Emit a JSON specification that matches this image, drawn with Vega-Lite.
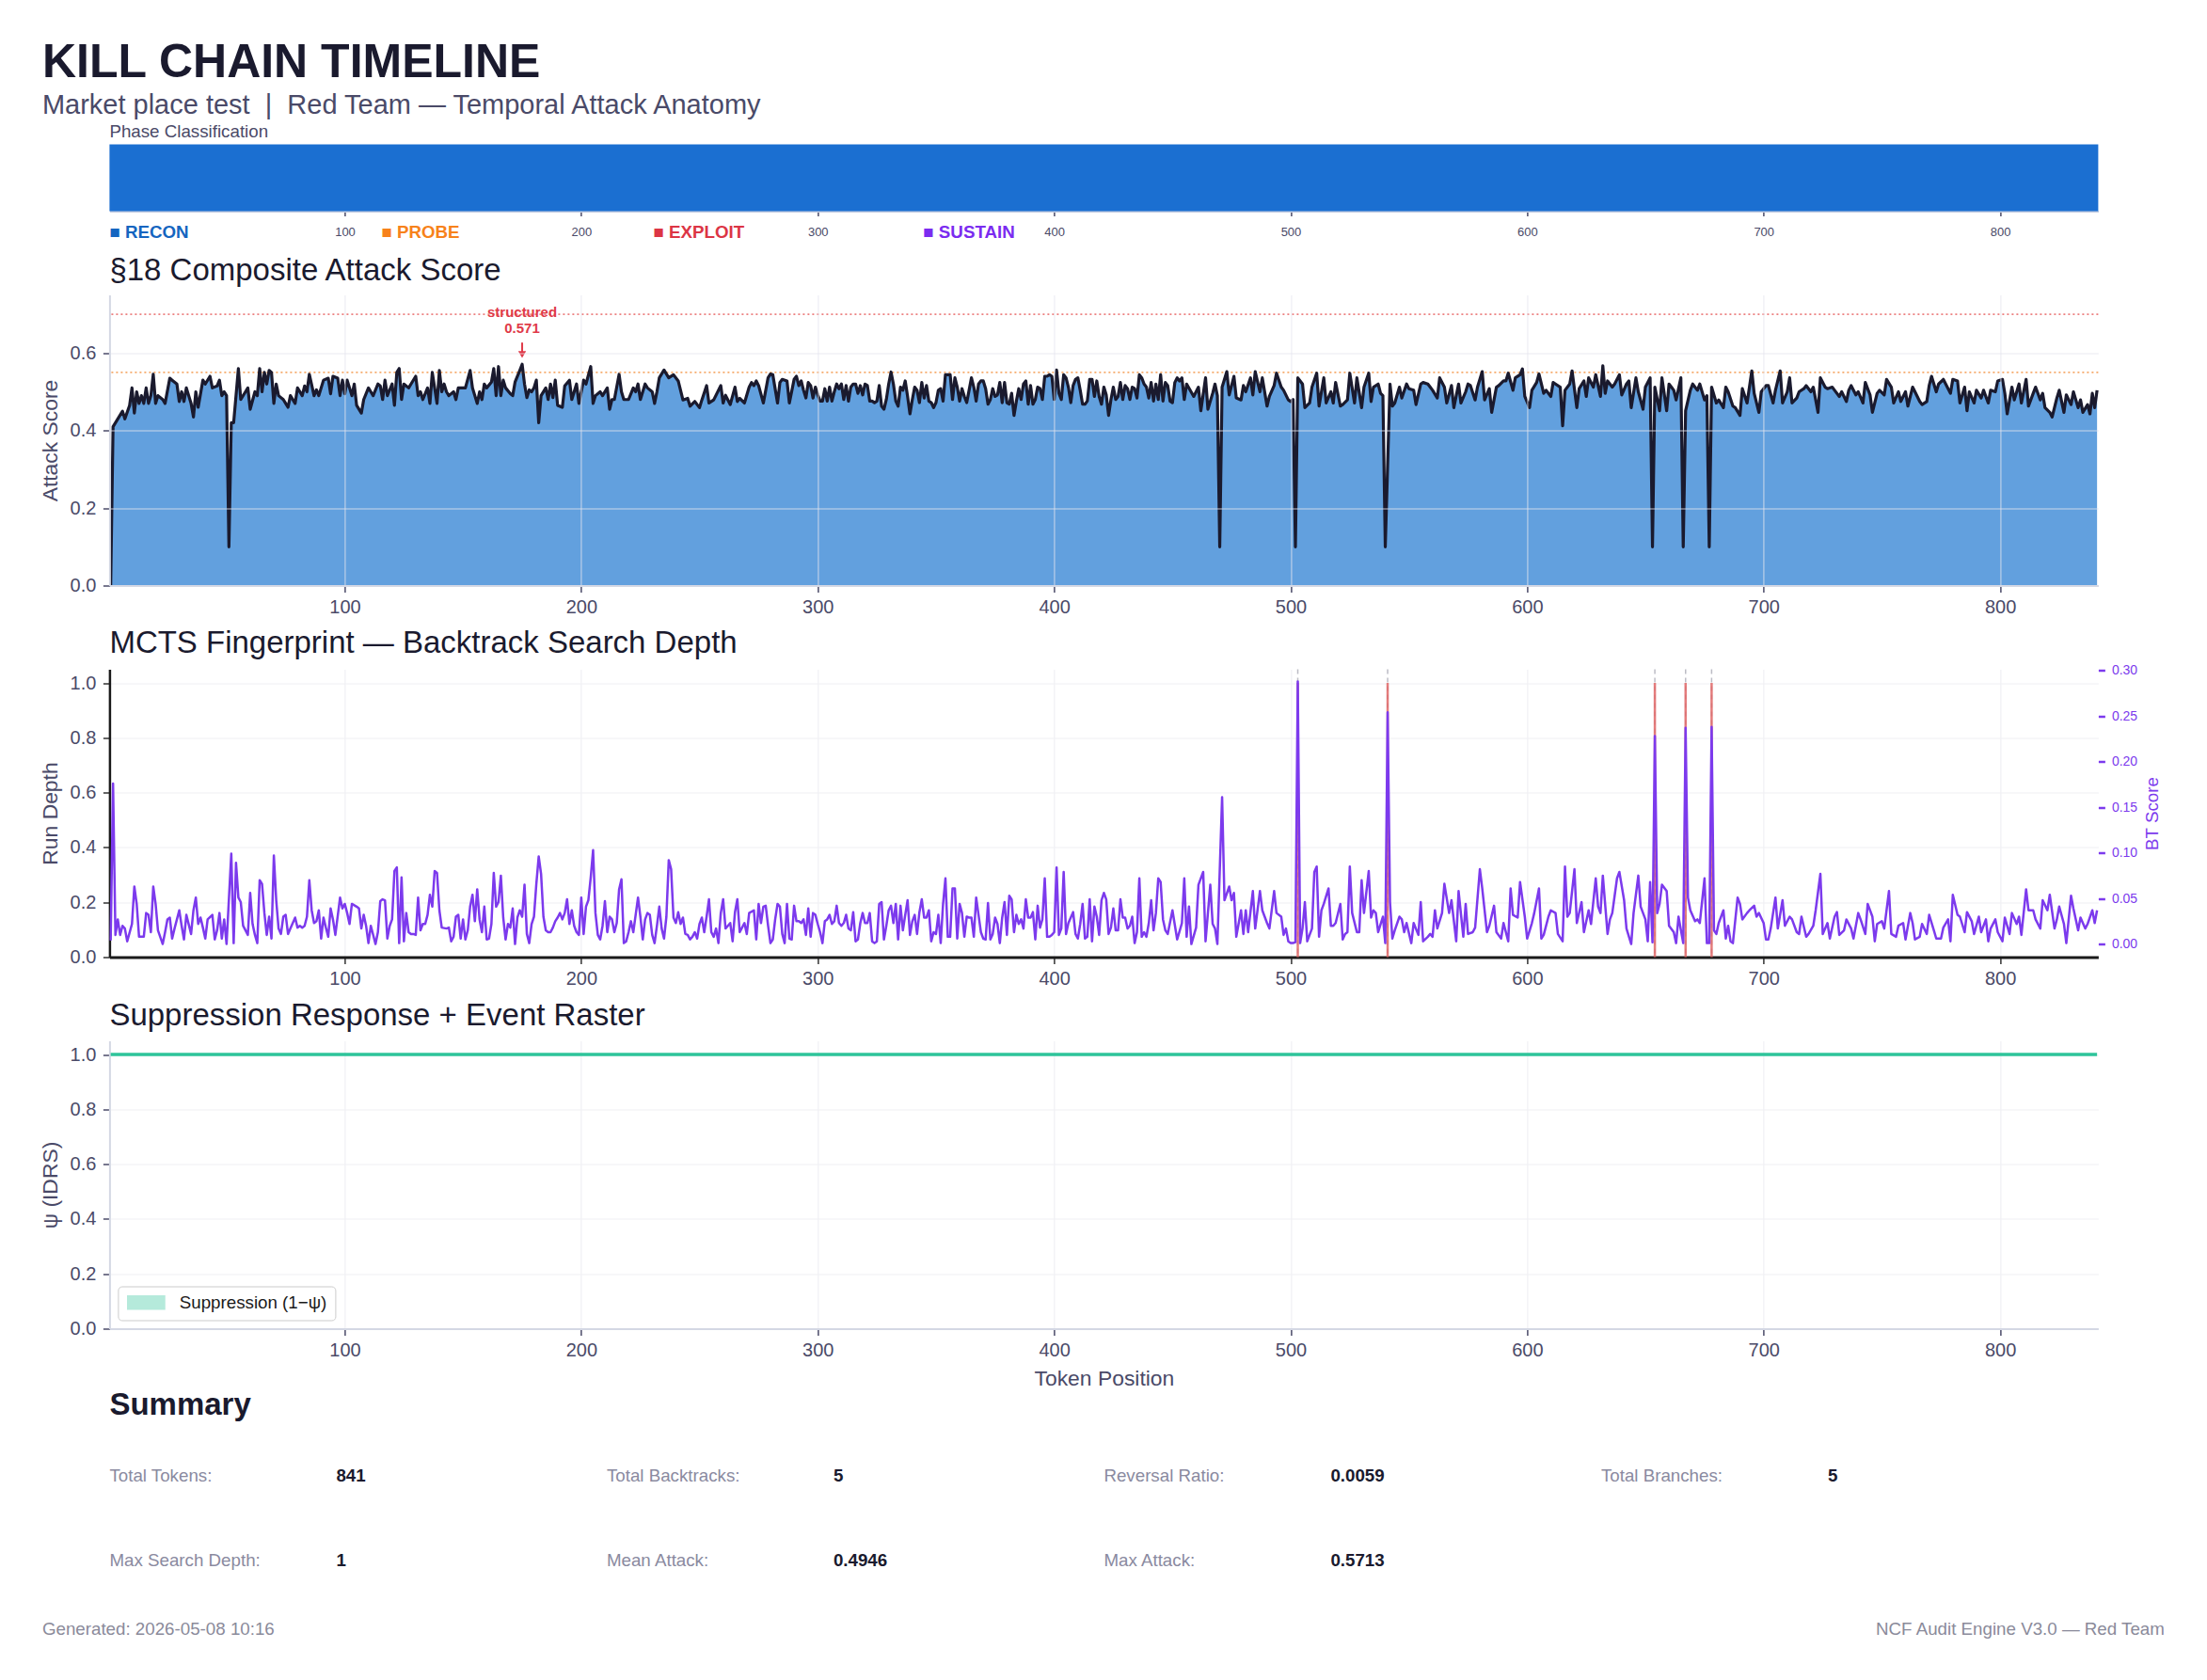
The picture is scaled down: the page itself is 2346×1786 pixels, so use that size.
{
"$schema": "https://vega.github.io/schema/vega-lite/v6.json",
"background": "white",
"padding": {"left": 42.4, "top": 41.5, "right": 10, "bottom": 10},
"autosize": {"type": "pad"},
"config": {
  "font": "Liberation Sans",
  "view": {"stroke": null},
  "axis": {"labelFont": "Liberation Sans", "titleFont": "Liberation Sans", "labelFontSize": 20, "labelColor": "#4a4a68", "titleFontSize": 22.9, "titleFontWeight": "normal", "titleColor": "#4a4a68", "tickColor": "#4a4a68", "tickWidth": 1.5, "tickSize": 7, "labelPadding": 6, "domainColor": "#d4d8e4", "domainWidth": 2, "gridColor": "#ececf2", "gridWidth": 1.2},
  "title": {"font": "Liberation Sans", "subtitleFont": "Liberation Sans"}
},
"title": {"text": "KILL CHAIN TIMELINE", "subtitle": "Market place test\u00a0\u00a0|\u00a0\u00a0Red Team — Temporal Attack Anatomy", "anchor": "start", "frame": "group", "dx": -71.5, "offset": 3.4, "fontSize": 50, "fontWeight": "bold", "color": "#1a1a2e", "subtitleFontSize": 29, "subtitleColor": "#4a4a68", "subtitlePadding": 6.3},
"spacing": 89,
"bounds": "flush",
"resolve": {"scale": {"color": "independent"}, "legend": {"color": "independent"}},
"datasets": {
"runs": [{"t":503,"d":1},{"t":541,"d":1},{"t":654,"d":1},{"t":667,"d":1},{"t":678,"d":1}],
"psi": [{"t":1,"psi":1,"s":0,"series":"Suppression (1−ψ)"},{"t":841,"psi":1,"s":0,"series":"Suppression (1−ψ)"}],
"atk": [
{"t":1,"v":0},{"t":2,"v":0.41},{"t":4,"v":0.43},{"t":6,"v":0.45},{"t":7,"v":0.43},{"t":9,"v":0.465},{"t":10,"v":0.51},{"t":11,"v":0.445},{"t":12,"v":0.5},{"t":13,"v":0.47},{"t":14,"v":0.49},{"t":15,"v":0.47},{"t":16,"v":0.51},{"t":17,"v":0.47},{"t":18,"v":0.49},{"t":19,"v":0.545},{"t":20,"v":0.47},{"t":21,"v":0.49},{"t":23,"v":0.48},{"t":24,"v":0.47},{"t":26,"v":0.535},{"t":27,"v":0.53},{"t":29,"v":0.52},{"t":30,"v":0.475},{"t":31,"v":0.5},{"t":32,"v":0.475},{"t":33,"v":0.51},{"t":35,"v":0.47},{"t":36,"v":0.435},{"t":37,"v":0.5},{"t":38,"v":0.46},{"t":40,"v":0.53},{"t":41,"v":0.52},{"t":43,"v":0.54},{"t":44,"v":0.51},{"t":46,"v":0.515},{"t":47,"v":0.53},{"t":48,"v":0.49},{"t":49,"v":0.5},{"t":50,"v":0.49},{"t":51,"v":0.1},{"t":52,"v":0.42},{"t":53,"v":0.42},{"t":55,"v":0.56},{"t":56,"v":0.48},{"t":58,"v":0.5},{"t":59,"v":0.51},{"t":60,"v":0.455},{"t":62,"v":0.5},{"t":63,"v":0.49},{"t":64,"v":0.56},{"t":65,"v":0.5},{"t":66,"v":0.55},{"t":67,"v":0.52},{"t":68,"v":0.555},{"t":69,"v":0.55},{"t":70,"v":0.47},{"t":71,"v":0.52},{"t":72,"v":0.49},{"t":74,"v":0.48},{"t":75,"v":0.47},{"t":76,"v":0.46},{"t":77,"v":0.49},{"t":79,"v":0.47},{"t":80,"v":0.51},{"t":82,"v":0.49},{"t":83,"v":0.515},{"t":84,"v":0.5},{"t":85,"v":0.545},{"t":87,"v":0.49},{"t":88,"v":0.505},{"t":89,"v":0.49},{"t":90,"v":0.51},{"t":91,"v":0.53},{"t":93,"v":0.535},{"t":94,"v":0.495},{"t":95,"v":0.54},{"t":97,"v":0.535},{"t":98,"v":0.49},{"t":99,"v":0.53},{"t":100,"v":0.495},{"t":101,"v":0.53},{"t":103,"v":0.49},{"t":104,"v":0.52},{"t":105,"v":0.465},{"t":107,"v":0.445},{"t":108,"v":0.48},{"t":110,"v":0.51},{"t":111,"v":0.5},{"t":112,"v":0.49},{"t":114,"v":0.52},{"t":115,"v":0.515},{"t":116,"v":0.48},{"t":117,"v":0.53},{"t":118,"v":0.49},{"t":120,"v":0.52},{"t":121,"v":0.465},{"t":122,"v":0.55},{"t":123,"v":0.56},{"t":124,"v":0.48},{"t":125,"v":0.52},{"t":127,"v":0.51},{"t":128,"v":0.52},{"t":130,"v":0.54},{"t":131,"v":0.49},{"t":132,"v":0.5},{"t":133,"v":0.48},{"t":135,"v":0.51},{"t":136,"v":0.47},{"t":137,"v":0.55},{"t":139,"v":0.47},{"t":140,"v":0.555},{"t":141,"v":0.5},{"t":142,"v":0.52},{"t":143,"v":0.5},{"t":144,"v":0.49},{"t":146,"v":0.5},{"t":147,"v":0.48},{"t":148,"v":0.51},{"t":150,"v":0.51},{"t":151,"v":0.51},{"t":153,"v":0.555},{"t":154,"v":0.51},{"t":156,"v":0.47},{"t":157,"v":0.5},{"t":158,"v":0.48},{"t":159,"v":0.52},{"t":160,"v":0.51},{"t":162,"v":0.525},{"t":163,"v":0.56},{"t":164,"v":0.49},{"t":165,"v":0.565},{"t":166,"v":0.49},{"t":167,"v":0.53},{"t":168,"v":0.51},{"t":170,"v":0.495},{"t":171,"v":0.49},{"t":172,"v":0.525},{"t":174,"v":0.555},{"t":175,"v":0.571},{"t":176,"v":0.52},{"t":177,"v":0.485},{"t":178,"v":0.505},{"t":179,"v":0.5},{"t":180,"v":0.51},{"t":181,"v":0.53},{"t":182,"v":0.42},{"t":183,"v":0.49},{"t":185,"v":0.51},{"t":186,"v":0.48},{"t":187,"v":0.52},{"t":188,"v":0.485},{"t":189,"v":0.53},{"t":190,"v":0.465},{"t":192,"v":0.46},{"t":193,"v":0.515},{"t":195,"v":0.53},{"t":196,"v":0.48},{"t":198,"v":0.52},{"t":199,"v":0.47},{"t":201,"v":0.53},{"t":202,"v":0.52},{"t":204,"v":0.565},{"t":205,"v":0.47},{"t":206,"v":0.49},{"t":208,"v":0.5},{"t":209,"v":0.49},{"t":211,"v":0.51},{"t":212,"v":0.455},{"t":213,"v":0.48},{"t":214,"v":0.48},{"t":216,"v":0.545},{"t":217,"v":0.5},{"t":218,"v":0.48},{"t":220,"v":0.48},{"t":222,"v":0.51},{"t":223,"v":0.5},{"t":224,"v":0.52},{"t":225,"v":0.48},{"t":227,"v":0.52},{"t":228,"v":0.51},{"t":230,"v":0.5},{"t":231,"v":0.47},{"t":232,"v":0.5},
{"t":233,"v":0.536},{"t":235,"v":0.556},{"t":237,"v":0.536},{"t":239,"v":0.544},{"t":241,"v":0.528},{"t":243,"v":0.479},{"t":245,"v":0.483},{"t":246,"v":0.463},{"t":248,"v":0.475},{"t":250,"v":0.459},{"t":251,"v":0.479},{"t":253,"v":0.516},{"t":254,"v":0.471},{"t":256,"v":0.479},{"t":259,"v":0.516},{"t":260,"v":0.471},{"t":261,"v":0.491},{"t":263,"v":0.467},{"t":265,"v":0.512},{"t":266,"v":0.475},{"t":267,"v":0.483},{"t":269,"v":0.471},{"t":271,"v":0.512},{"t":272,"v":0.524},{"t":273,"v":0.516},{"t":274,"v":0.528},{"t":275,"v":0.516},{"t":277,"v":0.471},{"t":279,"v":0.536},{"t":280,"v":0.546},{"t":281,"v":0.544},{"t":283,"v":0.471},{"t":284,"v":0.524},{"t":285,"v":0.532},{"t":287,"v":0.528},{"t":288,"v":0.471},
{"t":290,"v":0.532},{"t":291,"v":0.54},{"t":292,"v":0.516},{"t":293,"v":0.528},{"t":294,"v":0.504},{"t":295,"v":0.484},{"t":296,"v":0.524},{"t":297,"v":0.516},{"t":298,"v":0.484},{"t":299,"v":0.512},{"t":300,"v":0.492},{"t":301,"v":0.476},{"t":302,"v":0.476},{"t":303,"v":0.508},{"t":304,"v":0.476},{"t":305,"v":0.512},{"t":306,"v":0.476},{"t":307,"v":0.5},{"t":308,"v":0.52},{"t":309,"v":0.508},{"t":310,"v":0.52},{"t":311,"v":0.48},{"t":312,"v":0.516},{"t":313,"v":0.476},{"t":314,"v":0.512},{"t":315,"v":0.52},{"t":316,"v":0.52},{"t":317,"v":0.496},{"t":318,"v":0.516},{"t":319,"v":0.492},{"t":320,"v":0.52},{"t":321,"v":0.516},{"t":322,"v":0.476},{"t":323,"v":0.476},{"t":324,"v":0.472},{"t":325,"v":0.476},{"t":326,"v":0.516},{"t":327,"v":0.463},{"t":328,"v":0.455},{"t":329,"v":0.48},{"t":330,"v":0.52},{"t":331,"v":0.551},{"t":332,"v":0.52},{"t":333,"v":0.476},{"t":334,"v":0.463},{"t":335,"v":0.512},{"t":336,"v":0.504},{"t":337,"v":0.528},{"t":338,"v":0.488},{"t":339,"v":0.443},{"t":340,"v":0.48},{"t":341,"v":0.512},{"t":342,"v":0.504},{"t":343,"v":0.472},{"t":344,"v":0.524},{"t":345,"v":0.484},{"t":346,"v":0.516},{"t":347,"v":0.476},{"t":348,"v":0.472},{"t":349,"v":0.459},{"t":350,"v":0.472},{"t":351,"v":0.504},{"t":352,"v":0.508},{"t":353,"v":0.476},{"t":354,"v":0.544},{"t":355,"v":0.544},{"t":356,"v":0.544},{"t":357,"v":0.48},{"t":358,"v":0.536},{"t":359,"v":0.512},{"t":360,"v":0.476},{"t":361,"v":0.508},{"t":362,"v":0.488},{"t":363,"v":0.472},{"t":364,"v":0.504},{"t":365,"v":0.536},{"t":366,"v":0.512},{"t":367,"v":0.476},{"t":368,"v":0.52},{"t":369,"v":0.528},{"t":370,"v":0.528},{"t":371,"v":0.508},{"t":372,"v":0.468},{"t":373,"v":0.48},{"t":374,"v":0.508},{"t":375,"v":0.488},{"t":376,"v":0.492},{"t":377,"v":0.524},{"t":378,"v":0.472},{"t":379,"v":0.524},{"t":380,"v":0.472},{"t":381,"v":0.468},{"t":382,"v":0.496},{"t":383,"v":0.439},{"t":384,"v":0.476},{"t":385,"v":0.508},{"t":386,"v":0.48},{"t":387,"v":0.52},{"t":388,"v":0.528},{"t":389,"v":0.468},{"t":390,"v":0.516},{"t":391,"v":0.468},{"t":392,"v":0.48},{"t":393,"v":0.512},{"t":394,"v":0.508},{"t":395,"v":0.48},{"t":396,"v":0.54},{"t":397,"v":0.54},{"t":398,"v":0.544},{"t":399,"v":0.54},{"t":400,"v":0.48},{"t":401,"v":0.556},{"t":402,"v":0.496},{"t":403,"v":0.48},{"t":404,"v":0.544},{"t":405,"v":0.536},{"t":406,"v":0.512},{"t":407,"v":0.472},{"t":408,"v":0.516},{"t":409,"v":0.532},{"t":410,"v":0.536},{"t":411,"v":0.504},{"t":412,"v":0.468},{"t":413,"v":0.468},{"t":414,"v":0.476},{"t":415,"v":0.532},{"t":416,"v":0.532},{"t":417,"v":0.488},{"t":418,"v":0.528},{"t":419,"v":0.488},{"t":420,"v":0.468},{"t":421,"v":0.512},{"t":422,"v":0.492},{"t":423,"v":0.439},{"t":424,"v":0.48},{"t":425,"v":0.512},{"t":426,"v":0.48},{"t":427,"v":0.488},{"t":428,"v":0.524},{"t":429,"v":0.48},{"t":430,"v":0.516},{"t":431,"v":0.508},{"t":432,"v":0.48},{"t":433,"v":0.512},{"t":434,"v":0.508},{"t":435,"v":0.484},{"t":436,"v":0.544},{"t":437,"v":0.536},{"t":438,"v":0.52},{"t":439,"v":0.512},{"t":440,"v":0.484},{"t":441,"v":0.524},{"t":442,"v":0.476},{"t":443,"v":0.52},{"t":444,"v":0.48},{"t":445,"v":0.544},{"t":446,"v":0.476},{"t":447,"v":0.524},{"t":448,"v":0.516},{"t":449,"v":0.476},{"t":450,"v":0.472},{"t":451,"v":0.524},{"t":452,"v":0.536},{"t":453,"v":0.528},{"t":454,"v":0.536},{"t":455,"v":0.48},
{"t":456,"v":0.52},{"t":459,"v":0.488},{"t":461,"v":0.512},{"t":462,"v":0.451},{"t":464,"v":0.536},{"t":465,"v":0.455},{"t":467,"v":0.496},{"t":468,"v":0.52},{"t":469,"v":0.49},{"t":470,"v":0.1},{"t":471,"v":0.512},{"t":473,"v":0.552},{"t":474,"v":0.492},{"t":476,"v":0.54},{"t":477,"v":0.484},{"t":479,"v":0.479},{"t":480,"v":0.516},{"t":481,"v":0.5},{"t":483,"v":0.536},{"t":484,"v":0.492},{"t":485,"v":0.552},{"t":487,"v":0.5},{"t":488,"v":0.536},{"t":490,"v":0.463},{"t":491,"v":0.488},{"t":493,"v":0.516},{"t":494,"v":0.548},{"t":496,"v":0.512},{"t":497,"v":0.504},{"t":499,"v":0.479},{"t":500,"v":0.475},{"t":501,"v":0.48},{"t":502,"v":0.1},{"t":503,"v":0.536},{"t":505,"v":0.52},{"t":506,"v":0.459},{"t":508,"v":0.471},{"t":509,"v":0.512},{"t":511,"v":0.548},{"t":512,"v":0.463},{"t":514,"v":0.536},{"t":515,"v":0.471},{"t":517,"v":0.5},{"t":518,"v":0.471},{"t":519,"v":0.524},{"t":521,"v":0.463},{"t":522,"v":0.467},{"t":524,"v":0.479},{"t":525,"v":0.548},{"t":527,"v":0.471},{"t":528,"v":0.536},{"t":530,"v":0.459},{"t":531,"v":0.512},{"t":533,"v":0.548},{"t":534,"v":0.475},{"t":535,"v":0.512},{"t":537,"v":0.52},{"t":538,"v":0.496},{"t":539,"v":0.49},{"t":540,"v":0.1},{"t":542,"v":0.52},{"t":543,"v":0.463},{"t":544,"v":0.471},{"t":546,"v":0.512},{"t":547,"v":0.484},{"t":549,"v":0.52},{"t":550,"v":0.508},{"t":552,"v":0.504},{"t":553,"v":0.467},{"t":555,"v":0.52},{"t":556,"v":0.524},{"t":558,"v":0.52},{"t":559,"v":0.512},{"t":560,"v":0.504},{"t":562,"v":0.484},{"t":563,"v":0.536},{"t":565,"v":0.512},{"t":566,"v":0.471},{"t":568,"v":0.516},{"t":569,"v":0.459},{"t":571,"v":0.52},{"t":572,"v":0.471},{"t":574,"v":0.5},{"t":575,"v":0.52},{"t":576,"v":0.516},{"t":578,"v":0.479},{"t":579,"v":0.512},{"t":581,"v":0.552},{"t":582,"v":0.479},{"t":584,"v":0.508},{"t":585,"v":0.447},{"t":587,"v":0.512},{"t":588,"v":0.516},{"t":590,"v":0.528},{"t":591,"v":0.528},{"t":592,"v":0.548},{"t":594,"v":0.504},{"t":595,"v":0.536},{"t":597,"v":0.544},{"t":598,"v":0.559},{"t":599,"v":0.488},{"t":601,"v":0.459},{"t":602,"v":0.504},{"t":604,"v":0.524},{"t":605,"v":0.546},{"t":607,"v":0.496},{"t":608,"v":0.504},{"t":610,"v":0.488},{"t":611,"v":0.524},{"t":612,"v":0.52},{"t":614,"v":0.512},{"t":615,"v":0.412},{"t":616,"v":0.504},{"t":618,"v":0.52},{"t":619,"v":0.554},{"t":621,"v":0.459},{"t":622,"v":0.508},{"t":624,"v":0.528},{"t":625,"v":0.488},{"t":626,"v":0.536},{"t":628,"v":0.512},{"t":629,"v":0.544},{"t":631,"v":0.488},{"t":632,"v":0.567},{"t":633,"v":0.496},{"t":634,"v":0.528},{"t":636,"v":0.512},{"t":637,"v":0.52},{"t":639,"v":0.544},{"t":640,"v":0.492},{"t":642,"v":0.52},{"t":643,"v":0.528},{"t":644,"v":0.459},{"t":646,"v":0.536},{"t":647,"v":0.5},{"t":649,"v":0.455},{"t":650,"v":0.512},{"t":652,"v":0.536},{"t":653,"v":0.1},{"t":654,"v":0.512},{"t":656,"v":0.451},{"t":657,"v":0.536},{"t":659,"v":0.451},{"t":660,"v":0.52},{"t":662,"v":0.504},{"t":663,"v":0.479},{"t":665,"v":0.536},{"t":666,"v":0.1},{"t":667,"v":0.451},{"t":669,"v":0.504},{"t":670,"v":0.52},{"t":672,"v":0.504},{"t":673,"v":0.52},{"t":675,"v":0.479},{"t":676,"v":0.49},{"t":677,"v":0.1},{"t":678,"v":0.512},{"t":680,"v":0.471},{"t":681,"v":0.479},{"t":683,"v":0.459},{"t":684,"v":0.512},{"t":685,"v":0.5},{"t":687,"v":0.463},{"t":688,"v":0.459},{"t":690,"v":0.439},{"t":691,"v":0.508},{"t":693,"v":0.471},{"t":695,"v":0.554},{"t":696,"v":0.496},{"t":698,"v":0.447},{"t":699,"v":0.5},{"t":701,"v":0.516},{"t":702,"v":0.516},{"t":704,"v":0.471},{"t":705,"v":0.504},{"t":707,"v":0.554},{"t":708,"v":0.471},{"t":710,"v":0.5},{"t":711,"v":0.536},{"t":712,"v":0.471},{"t":714,"v":0.484},{"t":715,"v":0.5},{"t":717,"v":0.508},{"t":718,"v":0.516},{"t":720,"v":0.5},{"t":721,"v":0.512},{"t":723,"v":0.447},{"t":724,"v":0.536},{"t":726,"v":0.512},{"t":727,"v":0.508},{"t":729,"v":0.512},{"t":730,"v":0.504},{"t":732,"v":0.488},{"t":733,"v":0.5},{"t":735,"v":0.475},{"t":736,"v":0.504},{"t":737,"v":0.516},{"t":739,"v":0.492},{"t":740,"v":0.5},{"t":742,"v":0.471},{"t":743,"v":0.524},{"t":745,"v":0.492},{"t":746,"v":0.447},{"t":748,"v":0.496},{"t":749,"v":0.504},{"t":751,"v":0.492},{"t":752,"v":0.532},{"t":754,"v":0.512},{"t":755,"v":0.471},{"t":757,"v":0.5},{"t":758,"v":0.475},{"t":760,"v":0.5},{"t":761,"v":0.463},{"t":763,"v":0.512},{"t":764,"v":0.5},{"t":766,"v":0.475},{"t":767,"v":0.467},{"t":769,"v":0.475},{"t":770,"v":0.516},{"t":771,"v":0.54},{"t":773,"v":0.5},{"t":774,"v":0.52},{"t":776,"v":0.532},{"t":777,"v":0.52},{"t":779,"v":0.496},{"t":780,"v":0.532},{"t":782,"v":0.528},{"t":783,"v":0.471},{"t":785,"v":0.512},{"t":786,"v":0.451},{"t":787,"v":0.5},{"t":789,"v":0.471},{"t":790,"v":0.504},{"t":792,"v":0.484},{"t":793,"v":0.504},{"t":795,"v":0.471},{"t":796,"v":0.504},{"t":798,"v":0.5},{"t":799,"v":0.528},{"t":801,"v":0.532},{"t":802,"v":0.496},{"t":803,"v":0.443},{"t":805,"v":0.512},{"t":806,"v":0.479},{"t":808,"v":0.52},{"t":809,"v":0.471},{"t":811,"v":0.532},{"t":812,"v":0.463},{"t":814,"v":0.496},{"t":815,"v":0.512},{"t":817,"v":0.479},{"t":818,"v":0.496},{"t":819,"v":0.459},{"t":821,"v":0.447},{"t":822,"v":0.435},{"t":824,"v":0.484},{"t":825,"v":0.504},{"t":827,"v":0.447},{"t":828,"v":0.492},{"t":830,"v":0.467},{"t":831,"v":0.5},{"t":833,"v":0.459},{"t":834,"v":0.479},{"t":835,"v":0.447},{"t":837,"v":0.467},{"t":838,"v":0.443},{"t":839,"v":0.496},{"t":840,"v":0.459},{"t":841,"v":0.504}
],
"bt": [
{"t":1,"v":0.004},{"t":2,"v":0.176},{"t":3,"v":0.01},{"t":4,"v":0.027},{"t":5,"v":0.01},{"t":6,"v":0.02},{"t":7,"v":0.017},{"t":8,"v":0.003},{"t":10,"v":0.022},{"t":11,"v":0.063},{"t":12,"v":0.044},{"t":13,"v":0.008},{"t":15,"v":0.008},{"t":16,"v":0.034},{"t":17,"v":0.032},{"t":18,"v":0.013},{"t":19,"v":0.063},{"t":20,"v":0.044},{"t":21,"v":0.015},{"t":23,"v":0},{"t":24,"v":0.013},{"t":25,"v":0.027},{"t":26,"v":0.029},{"t":27,"v":0.006},{"t":28,"v":0.017},{"t":30,"v":0.037},{"t":31,"v":0.02},{"t":32,"v":0.005},{"t":33,"v":0.032},{"t":35,"v":0.011},{"t":36,"v":0.037},{"t":37,"v":0.051},{"t":38,"v":0.022},{"t":39,"v":0.029},{"t":40,"v":0.018},{"t":41,"v":0.006},{"t":42,"v":0.027},{"t":44,"v":0.032},{"t":45,"v":0.005},{"t":46,"v":0.015},{"t":47,"v":0.034},{"t":48,"v":0.006},{"t":49,"v":0.027},{"t":50,"v":0},{"t":52,"v":0.099},{"t":53,"v":0.001},{"t":54,"v":0.089},{"t":55,"v":0.051},{"t":56,"v":0.046},{"t":57,"v":0.02},{"t":59,"v":0.01},{"t":60,"v":0.056},{"t":61,"v":0.022},{"t":62,"v":0.01},{"t":63,"v":0.001},{"t":64,"v":0.07},{"t":65,"v":0.066},{"t":66,"v":0.034},{"t":67,"v":0.01},{"t":68,"v":0.03},{"t":69,"v":0.006},{"t":70,"v":0.097},{"t":71,"v":0.048},{"t":72,"v":0.017},{"t":73,"v":0.011},{"t":74,"v":0.03},{"t":75,"v":0.032},{"t":76,"v":0.011},{"t":77,"v":0.017},{"t":78,"v":0.023},{"t":79,"v":0.029},{"t":80,"v":0.018},{"t":81,"v":0.02},{"t":82,"v":0.018},{"t":83,"v":0.02},{"t":84,"v":0.03},{"t":85,"v":0.07},{"t":86,"v":0.037},{"t":87,"v":0.023},{"t":88,"v":0.025},{"t":89,"v":0.037},{"t":90,"v":0.006},{"t":91,"v":0.029},{"t":92,"v":0.018},{"t":93,"v":0.008},{"t":94,"v":0.039},{"t":95,"v":0.027},{"t":96,"v":0.01},{"t":98,"v":0.051},{"t":99,"v":0.039},{"t":100,"v":0.044},{"t":101,"v":0.034},{"t":102,"v":0.022},{"t":103,"v":0.044},{"t":105,"v":0.041},{"t":106,"v":0.039},{"t":107,"v":0.017},{"t":108,"v":0.032},{"t":109,"v":0.02},{"t":110,"v":0.001},{"t":111,"v":0.02},{"t":113,"v":0},{"t":114,"v":0.013},{"t":115,"v":0.047},{"t":116,"v":0.049},{"t":117,"v":0.048},{"t":118,"v":0.006},{"t":119,"v":0.02},{"t":120,"v":0.027},{"t":121,"v":0.08},{"t":122,"v":0.084},{"t":123,"v":0.001},{"t":124,"v":0.073},{"t":125,"v":0.003},{"t":126,"v":0.034},{"t":127,"v":0.013},{"t":128,"v":0.011},{"t":129,"v":0.011},{"t":130,"v":0.01},{"t":131,"v":0.051},{"t":132,"v":0.015},{"t":133,"v":0.022},{"t":134,"v":0.022},{"t":135,"v":0.032},{"t":136,"v":0.054},{"t":137,"v":0.041},{"t":138,"v":0.08},{"t":139,"v":0.078},{"t":140,"v":0.037},{"t":141,"v":0.018},{"t":143,"v":0.017},{"t":144,"v":0.018},{"t":145,"v":0.003},{"t":146,"v":0.008},{"t":147,"v":0.03},{"t":148,"v":0.032},{"t":149,"v":0.006},{"t":150,"v":0.027},{"t":151,"v":0.005},{"t":152,"v":0.015},{"t":153,"v":0.041},{"t":154,"v":0.054},{"t":155,"v":0.025},{"t":156,"v":0.06},{"t":157,"v":0.027},{"t":158,"v":0.013},{"t":159,"v":0.041},{"t":160,"v":0.005},{"t":161,"v":0.006},{"t":162,"v":0.022},{"t":163,"v":0.078},{"t":164,"v":0.041},{"t":165,"v":0.046},{"t":166,"v":0.075},{"t":167,"v":0.029},{"t":168,"v":0.005},{"t":169,"v":0.022},{"t":170,"v":0.018},{"t":171,"v":0.039},{"t":172,"v":0},{"t":173,"v":0.029},{"t":174,"v":0.037},{"t":175,"v":0.03},{"t":176,"v":0.065},{"t":177,"v":0.011},{"t":178,"v":0.001},{"t":179,"v":0.022},{"t":180,"v":0.03},{"t":181,"v":0.066},{"t":182,"v":0.096},{"t":183,"v":0.077},{"t":184,"v":0.03},{"t":185,"v":0.015},{"t":186,"v":0.013},{"t":187,"v":0.013},{"t":188,"v":0.018},{"t":189,"v":0.025},{"t":190,"v":0.029},{"t":191,"v":0.034},{"t":192,"v":0.027},{"t":193,"v":0.034},{"t":194,"v":0.049},{"t":195,"v":0.022},{"t":196,"v":0.037},{"t":197,"v":0.02},{"t":198,"v":0.013},{"t":199,"v":0.01},{"t":200,"v":0.051},{"t":201,"v":0.011},{"t":202,"v":0.041},{"t":203,"v":0.048},{"t":204,"v":0.073},{"t":205,"v":0.103},{"t":206,"v":0.034},{"t":207,"v":0.01},{"t":208,"v":0.005},{"t":209,"v":0.02},{"t":210,"v":0.047},{"t":211,"v":0.013},{"t":212,"v":0.03},{"t":213,"v":0.027},{"t":214,"v":0.013},{"t":215,"v":0.023},{"t":216,"v":0.06},{"t":217,"v":0.071},{"t":218,"v":0.001},{"t":219,"v":0.003},{"t":220,"v":0.013},{"t":221,"v":0.025},{"t":222,"v":0.013},{"t":223,"v":0.032},{"t":224,"v":0.051},{"t":225,"v":0.03},{"t":226,"v":0.005},{"t":227,"v":0.027},{"t":228,"v":0.034},{"t":229,"v":0.032},{"t":230,"v":0.01},{"t":231,"v":0.001},{"t":232,"v":0.02},{"t":233,"v":0.041},{"t":234,"v":0.017},{"t":235,"v":0.006},{"t":236,"v":0.03},{"t":237,"v":0.092},{"t":238,"v":0.082},{"t":239,"v":0.029},{"t":240,"v":0.023},{"t":241,"v":0.035},{"t":242,"v":0.022},{"t":243,"v":0.029},{"t":244,"v":0.011},{"t":245,"v":0.01},{"t":246,"v":0.005},{"t":247,"v":0.008},{"t":248,"v":0.013},{"t":249,"v":0.006},{"t":250,"v":0.022},{"t":251,"v":0.029},{"t":252,"v":0.013},{"t":253,"v":0.03},{"t":254,"v":0.049},{"t":255,"v":0.013},{"t":256,"v":0.008},{"t":257,"v":0.017},{"t":258,"v":0.001},{"t":259,"v":0.034},{"t":260,"v":0.049},{"t":261,"v":0.017},{"t":262,"v":0.02},{"t":263,"v":0.023},{"t":264,"v":0.003},{"t":265,"v":0.035},{"t":266,"v":0.049},{"t":267,"v":0.013},{"t":268,"v":0.018},{"t":269,"v":0.023},{"t":270,"v":0.011},{"t":271,"v":0.034},{"t":273,"v":0.037},{"t":274,"v":0.005},{"t":275,"v":0.044},{"t":276,"v":0.023},{"t":277,"v":0.041},{"t":278,"v":0.042},{"t":279,"v":0.02},{"t":280,"v":0.001},{"t":281,"v":0.005},{"t":282,"v":0.027},{"t":283,"v":0.044},{"t":284,"v":0.041},{"t":285,"v":0.011},{"t":286,"v":0.001},{"t":287,"v":0.044},{"t":288,"v":0.006},{"t":289,"v":0.005},{"t":290,"v":0.042},{"t":291,"v":0.025},{"t":292,"v":0.025},{"t":293,"v":0.023},{"t":294,"v":0.027},{"t":295,"v":0.01},{"t":296,"v":0.039},{"t":297,"v":0.008},{"t":298,"v":0.034},{"t":299,"v":0.032},{"t":300,"v":0.022},{"t":301,"v":0.013},{"t":302,"v":0.001},{"t":303,"v":0.025},{"t":304,"v":0.027},{"t":305,"v":0.032},{"t":306,"v":0.022},{"t":307,"v":0.025},{"t":308,"v":0.042},{"t":309,"v":0.023},{"t":310,"v":0.02},{"t":311,"v":0.023},{"t":312,"v":0.032},{"t":313,"v":0.017},{"t":314,"v":0.015},{"t":315,"v":0.035},{"t":316,"v":0.003},{"t":317,"v":0.005},{"t":318,"v":0.023},{"t":319,"v":0.034},{"t":320,"v":0.023},{"t":321,"v":0.023},{"t":322,"v":0.034},{"t":323,"v":0.003},{"t":324,"v":0.001},{"t":325,"v":0.003},{"t":326,"v":0.044},{"t":327,"v":0.046},{"t":328,"v":0.005},{"t":329,"v":0.02},{"t":330,"v":0.037},{"t":331,"v":0.042},{"t":332,"v":0.023},{"t":333,"v":0.044},{"t":334,"v":0.005},{"t":335,"v":0.042},{"t":336,"v":0.015},{"t":337,"v":0.032},{"t":338,"v":0.048},{"t":339,"v":0.01},{"t":340,"v":0.025},{"t":341,"v":0.032},{"t":342,"v":0.011},{"t":343,"v":0.035},{"t":344,"v":0.049},{"t":345,"v":0.029},{"t":346,"v":0.029},{"t":347,"v":0.037},{"t":348,"v":0.003},{"t":349,"v":0.013},{"t":350,"v":0.011},{"t":351,"v":0.032},{"t":352,"v":0.001},{"t":353,"v":0.044},{"t":354,"v":0.072},{"t":355,"v":0.008},{"t":356,"v":0.008},{"t":357,"v":0.061},{"t":358,"v":0.061},{"t":359,"v":0.006},{"t":360,"v":0.044},{"t":361,"v":0.034},{"t":362,"v":0.008},{"t":363,"v":0.03},{"t":364,"v":0.029},{"t":365,"v":0.029},{"t":366,"v":0.008},{"t":367,"v":0.051},{"t":368,"v":0.032},{"t":369,"v":0.013},{"t":370,"v":0.006},{"t":371,"v":0.005},{"t":372,"v":0.045},{"t":373,"v":0.005},{"t":374,"v":0.011},{"t":375,"v":0.029},{"t":376,"v":0.022},{"t":377,"v":0.001},{"t":378,"v":0.029},{"t":379,"v":0.046},{"t":380,"v":0.01},{"t":381,"v":0.053},{"t":382,"v":0.049},{"t":383,"v":0.013},{"t":384,"v":0.032},{"t":385,"v":0.022},{"t":386,"v":0.027},{"t":387,"v":0.017},{"t":388,"v":0.049},{"t":389,"v":0.029},{"t":390,"v":0.029},{"t":391,"v":0.035},{"t":392,"v":0.005},{"t":393,"v":0.042},{"t":394,"v":0.018},{"t":395,"v":0.027},{"t":396,"v":0.072},{"t":397,"v":0.008},{"t":398,"v":0.008},{"t":399,"v":0.01},{"t":400,"v":0.013},{"t":401,"v":0.084},{"t":402,"v":0.01},{"t":403,"v":0.017},{"t":404,"v":0.079},{"t":405,"v":0.011},{"t":406,"v":0.023},{"t":407,"v":0.029},{"t":408,"v":0.035},{"t":409,"v":0.011},{"t":410,"v":0.006},{"t":411,"v":0.022},{"t":412,"v":0.044},{"t":413,"v":0.006},{"t":414,"v":0.008},{"t":415,"v":0.049},{"t":416,"v":0.003},{"t":417,"v":0.041},{"t":418,"v":0.03},{"t":419,"v":0.01},{"t":420,"v":0.048},{"t":421,"v":0.056},{"t":422,"v":0.049},{"t":423,"v":0.011},{"t":424,"v":0.018},{"t":425,"v":0.039},{"t":426,"v":0.015},{"t":427,"v":0.015},{"t":428,"v":0.049},{"t":429,"v":0.029},{"t":430,"v":0.029},{"t":431,"v":0.017},{"t":432,"v":0.02},{"t":433,"v":0.03},{"t":434,"v":0.001},{"t":435,"v":0.013},{"t":436,"v":0.072},{"t":437,"v":0.008},{"t":438,"v":0.013},{"t":439,"v":0.008},{"t":440,"v":0.023},{"t":441,"v":0.048},{"t":442,"v":0.015},{"t":443,"v":0.034},{"t":444,"v":0.072},{"t":445,"v":0.068},{"t":446,"v":0.027},{"t":447,"v":0.015},{"t":448,"v":0.011},{"t":450,"v":0.037},{"t":452,"v":0.005},{"t":454,"v":0.023},{"t":455,"v":0.072},{"t":456,"v":0.008},{"t":457,"v":0.041},{"t":458,"v":0},{"t":460,"v":0.018},{"t":461,"v":0.065},{"t":463,"v":0.079},{"t":464,"v":0.003},{"t":466,"v":0.065},{"t":467,"v":0.022},{"t":468,"v":0.017},{"t":469,"v":0},{"t":471,"v":0.161},{"t":472,"v":0.048},{"t":474,"v":0.063},{"t":475,"v":0.048},{"t":476,"v":0.056},{"t":477,"v":0.008},{"t":479,"v":0.037},{"t":480,"v":0.011},{"t":481,"v":0.037},{"t":482,"v":0.013},{"t":484,"v":0.058},{"t":485,"v":0.017},{"t":487,"v":0.058},{"t":488,"v":0.037},{"t":490,"v":0.023},{"t":491,"v":0.017},{"t":493,"v":0.058},{"t":494,"v":0.034},{"t":496,"v":0.03},{"t":497,"v":0.01},{"t":498,"v":0.017},{"t":499,"v":0.003},{"t":500,"v":0.001},{"t":501,"v":0.001},{"t":502,"v":0.002},{"t":503,"v":0.288},{"t":504,"v":0.001},{"t":505,"v":0.017},{"t":506,"v":0.046},{"t":507,"v":0.003},{"t":509,"v":0.017},{"t":510,"v":0.079},{"t":511,"v":0.085},{"t":512,"v":0.008},{"t":513,"v":0.037},{"t":514,"v":0.044},{"t":516,"v":0.061},{"t":517,"v":0.02},{"t":518,"v":0.02},{"t":519,"v":0.023},{"t":521,"v":0.044},{"t":522,"v":0.005},{"t":523,"v":0.011},{"t":524,"v":0.013},{"t":525,"v":0.085},{"t":526,"v":0.034},{"t":528,"v":0.013},{"t":529,"v":0.013},{"t":530,"v":0.07},{"t":531,"v":0.034},{"t":533,"v":0.08},{"t":534,"v":0.029},{"t":535,"v":0.037},{"t":536,"v":0.034},{"t":537,"v":0.013},{"t":539,"v":0.03},{"t":540,"v":0.001},{"t":541,"v":0.254},{"t":542,"v":0.046},{"t":543,"v":0.006},{"t":544,"v":0.015},{"t":546,"v":0.03},{"t":547,"v":0.027},{"t":548,"v":0.013},{"t":549,"v":0.023},{"t":551,"v":0.001},{"t":552,"v":0.023},{"t":554,"v":0.01},{"t":555,"v":0.046},{"t":556,"v":0.003},{"t":558,"v":0.008},{"t":559,"v":0.011},{"t":560,"v":0.008},{"t":561,"v":0.037},{"t":562,"v":0.017},{"t":564,"v":0.034},{"t":565,"v":0.066},{"t":567,"v":0.034},{"t":568,"v":0.048},{"t":570,"v":0.003},{"t":571,"v":0.058},{"t":573,"v":0.008},{"t":574,"v":0.044},{"t":575,"v":0.011},{"t":577,"v":0.013},{"t":578,"v":0.018},{"t":580,"v":0.082},{"t":581,"v":0.061},{"t":583,"v":0.013},{"t":584,"v":0.02},{"t":586,"v":0.042},{"t":587,"v":0.013},{"t":589,"v":0.006},{"t":590,"v":0.023},{"t":592,"v":0.003},{"t":593,"v":0.061},{"t":594,"v":0.032},{"t":596,"v":0.029},{"t":597,"v":0.068},{"t":599,"v":0.03},{"t":600,"v":0.006},{"t":602,"v":0.023},{"t":603,"v":0.034},{"t":605,"v":0.061},{"t":606,"v":0.006},{"t":607,"v":0.01},{"t":609,"v":0.03},{"t":610,"v":0.037},{"t":612,"v":0.034},{"t":613,"v":0.011},{"t":615,"v":0.003},{"t":616,"v":0.085},{"t":617,"v":0.03},{"t":618,"v":0.034},{"t":620,"v":0.082},{"t":621,"v":0.023},{"t":623,"v":0.046},{"t":624,"v":0.013},{"t":626,"v":0.037},{"t":627,"v":0.022},{"t":629,"v":0.072},{"t":630,"v":0.041},{"t":631,"v":0.034},{"t":632,"v":0.075},{"t":634,"v":0.011},{"t":635,"v":0.027},{"t":636,"v":0.034},{"t":638,"v":0.072},{"t":639,"v":0.079},{"t":641,"v":0.048},{"t":642,"v":0.017},{"t":644,"v":0},{"t":645,"v":0.034},{"t":647,"v":0.075},{"t":648,"v":0.041},{"t":650,"v":0.027},{"t":651,"v":0.003},{"t":652,"v":0.068},{"t":653,"v":0.002},{"t":654,"v":0.228},{"t":655,"v":0.034},{"t":656,"v":0.044},{"t":657,"v":0.065},{"t":659,"v":0.058},{"t":660,"v":0.02},{"t":662,"v":0.013},{"t":663,"v":0.001},{"t":664,"v":0.03},{"t":666,"v":0.001},{"t":667,"v":0.237},{"t":668,"v":0.051},{"t":669,"v":0.037},{"t":671,"v":0.025},{"t":672,"v":0.027},{"t":673,"v":0.023},{"t":675,"v":0.072},{"t":676,"v":0.001},{"t":677,"v":0.001},{"t":678,"v":0.238},{"t":679,"v":0.015},{"t":680,"v":0.011},{"t":681,"v":0.023},{"t":683,"v":0.037},{"t":684,"v":0.006},{"t":685,"v":0.02},{"t":686,"v":0.003},{"t":687,"v":0.001},{"t":689,"v":0.051},{"t":690,"v":0.044},{"t":691,"v":0.027},{"t":693,"v":0.034},{"t":694,"v":0.037},{"t":696,"v":0.042},{"t":697,"v":0.03},{"t":698,"v":0.034},{"t":700,"v":0.023},{"t":701,"v":0.005},{"t":702,"v":0.005},{"t":703,"v":0.017},{"t":705,"v":0.051},{"t":706,"v":0.017},{"t":708,"v":0.048},{"t":709,"v":0.02},{"t":711,"v":0.03},{"t":712,"v":0.027},{"t":714,"v":0.013},{"t":715,"v":0.011},{"t":716,"v":0.03},{"t":718,"v":0.008},{"t":719,"v":0.011},{"t":721,"v":0.02},{"t":722,"v":0.037},{"t":724,"v":0.077},{"t":725,"v":0.011},{"t":727,"v":0.023},{"t":728,"v":0.006},{"t":730,"v":0.03},{"t":731,"v":0.035},{"t":732,"v":0.01},{"t":734,"v":0.015},{"t":735,"v":0.027},{"t":737,"v":0.017},{"t":738,"v":0.006},{"t":740,"v":0.034},{"t":741,"v":0.027},{"t":743,"v":0.011},{"t":744,"v":0.044},{"t":746,"v":0.03},{"t":747,"v":0.003},{"t":748,"v":0.022},{"t":750,"v":0.025},{"t":751,"v":0.017},{"t":753,"v":0.058},{"t":754,"v":0.011},{"t":756,"v":0.008},{"t":757,"v":0.02},{"t":759,"v":0.023},{"t":760,"v":0.005},{"t":762,"v":0.034},{"t":763,"v":0.023},{"t":764,"v":0.005},{"t":766,"v":0.008},{"t":767,"v":0.022},{"t":769,"v":0.011},{"t":770,"v":0.032},{"t":772,"v":0.015},{"t":773,"v":0.006},{"t":775,"v":0.006},{"t":776,"v":0.018},{"t":778,"v":0.027},{"t":779,"v":0.003},{"t":780,"v":0.054},{"t":782,"v":0.032},{"t":783,"v":0.03},{"t":785,"v":0.013},{"t":786,"v":0.035},{"t":788,"v":0.025},{"t":789,"v":0.011},{"t":791,"v":0.03},{"t":792,"v":0.013},{"t":794,"v":0.027},{"t":795,"v":0.003},{"t":796,"v":0.017},{"t":798,"v":0.027},{"t":799,"v":0.013},{"t":801,"v":0.003},{"t":802,"v":0.029},{"t":804,"v":0.011},{"t":805,"v":0.034},{"t":807,"v":0.022},{"t":808,"v":0.03},{"t":809,"v":0.01},{"t":811,"v":0.06},{"t":812,"v":0.037},{"t":814,"v":0.037},{"t":815,"v":0.027},{"t":817,"v":0.017},{"t":818,"v":0.048},{"t":820,"v":0.037},{"t":821,"v":0.054},{"t":823,"v":0.017},{"t":824,"v":0.027},{"t":825,"v":0.041},{"t":827,"v":0.022},{"t":828,"v":0.001},{"t":830,"v":0.053},{"t":831,"v":0.039},{"t":833,"v":0.015},{"t":834,"v":0.029},{"t":836,"v":0.017},{"t":837,"v":0.022},{"t":839,"v":0.037},{"t":840,"v":0.023},{"t":841,"v":0.037}
]
},
"vconcat": [
{
 "width": 2114, "height": 71,
 "title": {"text": "Phase Classification", "anchor": "start", "frame": "group", "fontSize": 18.75, "fontWeight": "normal", "color": "#4a4a68", "offset": 4},
 "layer": [
  {"data": {"values": [{"phase": "RECON", "start": 0.5, "end": 841.5}]},
   "mark": {"type": "rect", "color": "#1b6fd1"},
   "encoding": {
     "x": {"field": "start", "type": "quantitative", "scale": {"domain": [0.5, 841.5], "nice": false, "zero": false}, "axis": {"title": null, "values": [100,200,300,400,500,600,700,800], "grid": false, "labelFontSize": 13, "tickSize": 5, "labelPadding": 11, "domainColor": "#c4cce0"}},
     "x2": {"field": "end"}}},
  {"data": {"values": [{"phase": "RECON", "label": "■ RECON", "pos": 0.5}, {"phase": "PROBE", "label": "■ PROBE", "pos": 115.5}, {"phase": "EXPLOIT", "label": "■ EXPLOIT", "pos": 230.5}, {"phase": "SUSTAIN", "label": "■ SUSTAIN", "pos": 344.6}]},
   "mark": {"type": "text", "align": "left", "baseline": "middle", "fontSize": 18.75, "fontWeight": "bold", "dy": 57.8},
   "encoding": {
     "x": {"field": "pos", "type": "quantitative", "scale": {"domain": [0.5, 841.5], "nice": false, "zero": false}},
     "text": {"field": "label"},
     "color": {"field": "phase", "type": "nominal", "scale": {"domain": ["RECON","PROBE","EXPLOIT","SUSTAIN"], "range": ["#1565c0","#f7821b","#dc3545","#7b2cf0"]}, "legend": null}}}
 ]
},
{
 "width": 2114, "height": 309,
 "title": {"text": "§18 Composite Attack Score", "anchor": "start", "frame": "group", "fontSize": 33, "fontWeight": "normal", "color": "#1a1a2e", "offset": 9},
 "layer": [
  {"data": {"name": "atk"},
   "mark": {"type": "area", "color": "#62a0de", "opacity": 1},
   "encoding": {
     "x": {"field": "t", "type": "quantitative", "scale": {"domain": [0.5, 841.5], "nice": false, "zero": false}, "axis": {"title": null, "values": [100,200,300,400,500,600,700,800], "grid": true, "gridColor": "#e6e6ee", "gridOpacity": 0.55, "gridWidth": 1.5, "zindex": 1}},
     "y": {"field": "v", "type": "quantitative", "scale": {"domain": [0, 0.75], "nice": false}, "axis": {"title": "Attack Score", "values": [0,0.2,0.4,0.6], "format": ".1f", "grid": true, "gridColor": "#e6e6ee", "gridOpacity": 0.55, "gridWidth": 1.5, "labelPadding": 7.5, "titleX": -56, "titleY": 154.5, "titleAngle": -90, "titleBaseline": "alphabetic", "titleAlign": "center", "zindex": 1}}}},
  {"data": {"values": [{"thr": 0.7}]},
   "mark": {"type": "rule", "color": "#ec8080", "strokeDash": [2, 3], "strokeWidth": 1.8},
   "encoding": {"y": {"field": "thr", "type": "quantitative", "scale": {"domain": [0, 0.75], "nice": false}}}},
  {"data": {"values": [{"thr": 0.55}]},
   "mark": {"type": "rule", "color": "#f6ab6c", "strokeDash": [2, 3], "strokeWidth": 1.8},
   "encoding": {"y": {"field": "thr", "type": "quantitative", "scale": {"domain": [0, 0.75], "nice": false}}}},
  {"data": {"name": "atk"},
   "mark": {"type": "line", "color": "#1a1a2e", "strokeWidth": 3.2, "strokeJoin": "round"},
   "encoding": {
     "x": {"field": "t", "type": "quantitative", "scale": {"domain": [0.5, 841.5], "nice": false, "zero": false}},
     "y": {"field": "v", "type": "quantitative", "scale": {"domain": [0, 0.75], "nice": false}}}},
  {"data": {"values": [{"t": 175, "v": 0.704, "txt": "structured"}, {"t": 175, "v": 0.663, "txt": "0.571"}]},
   "mark": {"type": "text", "align": "center", "baseline": "middle", "fontSize": 15, "fontWeight": "bold", "color": "#e03a48"},
   "encoding": {
     "x": {"field": "t", "type": "quantitative", "scale": {"domain": [0.5, 841.5], "nice": false, "zero": false}},
     "y": {"field": "v", "type": "quantitative", "scale": {"domain": [0, 0.75], "nice": false}},
     "text": {"field": "txt"}}},
  {"data": {"values": [{"t": 175, "y1": 0.627, "y2": 0.597}]},
   "mark": {"type": "rule", "color": "#e03a48", "strokeWidth": 2},
   "encoding": {
     "x": {"field": "t", "type": "quantitative", "scale": {"domain": [0.5, 841.5], "nice": false, "zero": false}},
     "y": {"field": "y1", "type": "quantitative", "scale": {"domain": [0, 0.75], "nice": false}},
     "y2": {"field": "y2"}}},
  {"data": {"values": [{"t": 175, "v": 0.596}]},
   "mark": {"type": "point", "shape": "triangle-down", "filled": true, "size": 70, "color": "#e03a48", "opacity": 1},
   "encoding": {
     "x": {"field": "t", "type": "quantitative", "scale": {"domain": [0.5, 841.5], "nice": false, "zero": false}},
     "y": {"field": "v", "type": "quantitative", "scale": {"domain": [0, 0.75], "nice": false}}}}
 ]
},
{
 "width": 2114, "height": 306,
 "title": {"text": "MCTS Fingerprint — Backtrack Search Depth", "anchor": "start", "frame": "group", "fontSize": 33, "fontWeight": "normal", "color": "#1a1a2e", "offset": 5},
 "layer": [
  {"data": {"name": "runs"},
   "mark": {"type": "rule", "color": "#a0a0ac", "strokeDash": [5, 4], "strokeWidth": 1.5, "opacity": 0.7},
   "encoding": {"x": {"field": "t", "type": "quantitative", "scale": {"domain": [0.5, 841.5], "nice": false, "zero": false}}}},
  {"data": {"name": "runs"},
   "mark": {"type": "rule", "color": "#e06666", "strokeWidth": 2.5, "opacity": 0.85},
   "encoding": {
     "x": {"field": "t", "type": "quantitative", "scale": {"domain": [0.5, 841.5], "nice": false, "zero": false}},
     "y": {"field": "d", "type": "quantitative", "scale": {"domain": [0, 1.05], "nice": false}, "axis": {"orient": "left", "title": "Run Depth", "values": [0,0.2,0.4,0.6,0.8,1], "format": ".1f", "grid": true, "gridColor": "#f0f0f4", "domainColor": "#1a1a1a", "domainWidth": 2.5, "tickColor": "#333333", "labelPadding": 7.5, "titleX": -56, "titleY": 153, "titleAngle": -90, "titleBaseline": "alphabetic", "titleAlign": "center"}},
     "y2": {"datum": 0}}},
  {"data": {"name": "bt"},
   "mark": {"type": "line", "color": "#7c3aed", "strokeWidth": 2.5, "strokeJoin": "round"},
   "encoding": {
     "x": {"field": "t", "type": "quantitative", "scale": {"domain": [0.5, 841.5], "nice": false, "zero": false}, "axis": {"title": null, "values": [100,200,300,400,500,600,700,800], "grid": true, "gridColor": "#f0f0f4", "domainColor": "#1a1a1a", "domainWidth": 3, "tickColor": "#333333"}},
     "y": {"field": "v", "type": "quantitative", "scale": {"domain": [-0.01435, 0.3013], "nice": false, "zero": false}, "axis": {"orient": "right", "title": "BT Score", "values": [0,0.05,0.1,0.15,0.2,0.25,0.3], "format": ".2f", "grid": false, "domain": false, "tickColor": "#7c3aed", "tickWidth": 2.5, "labelColor": "#7c3aed", "labelFontSize": 14, "labelPadding": 7, "titleColor": "#7c3aed", "titleFontSize": 18.75, "titleX": 63, "titleY": 153, "titleAngle": -90, "titleBaseline": "alphabetic", "titleAlign": "center"}}}}
 ],
 "resolve": {"scale": {"y": "independent"}, "axis": {"y": "independent"}}
},
{
 "width": 2114, "height": 306,
 "title": {"text": "Suppression Response + Event Raster", "anchor": "start", "frame": "group", "fontSize": 33, "fontWeight": "normal", "color": "#1a1a2e", "offset": 9.5},
 "layer": [
  {"data": {"name": "psi"},
   "mark": {"type": "area", "opacity": 0.33},
   "encoding": {
     "x": {"field": "t", "type": "quantitative", "scale": {"domain": [0.5, 841.5], "nice": false, "zero": false}},
     "y": {"field": "s", "type": "quantitative", "scale": {"domain": [0, 1.05], "nice": false}},
     "color": {"field": "series", "type": "nominal", "scale": {"range": ["#2ec49a"]}, "legend": {"title": null, "orient": "bottom-left", "offset": 9, "padding": 8, "fillColor": "#ffffff", "strokeColor": "#cccccc", "cornerRadius": 4, "symbolType": "M-2.8,-1L2.8,-1L2.8,1L-2.8,1Z", "symbolSize": 196, "symbolOffset": 12.6, "symbolOpacity": 0.35, "symbolStrokeColor": "#2ec49a", "symbolStrokeWidth": 1.5, "labelFontSize": 18.75, "labelColor": "#1a1a1a", "labelOffset": 26}}}},
  {"data": {"name": "psi"},
   "mark": {"type": "line", "color": "#2ec49a", "strokeWidth": 3.5},
   "encoding": {
     "x": {"field": "t", "type": "quantitative", "scale": {"domain": [0.5, 841.5], "nice": false, "zero": false}, "axis": {"title": "Token Position", "values": [100,200,300,400,500,600,700,800], "grid": true, "gridColor": "#f0f0f4", "titleX": 1057, "titleY": 60, "titleBaseline": "alphabetic", "titleAlign": "center"}},
     "y": {"field": "psi", "type": "quantitative", "scale": {"domain": [0, 1.05], "nice": false}, "axis": {"title": "ψ (IDRS)", "values": [0,0.2,0.4,0.6,0.8,1], "format": ".1f", "grid": true, "gridColor": "#f0f0f4", "labelPadding": 7.5, "titleX": -56, "titleY": 153, "titleAngle": -90, "titleBaseline": "alphabetic", "titleAlign": "center"}}}}
 ]
},
{
 "width": 2114, "height": 247.3,
 "title": {"text": "Summary", "anchor": "start", "frame": "group", "fontSize": 33, "fontWeight": "bold", "color": "#1a1a2e", "offset": -9.7},
 "data": {"values": [
   {"kind": "stat", "label": "Total Tokens:", "value": "841", "col": 0, "row": 1},
   {"kind": "stat", "label": "Total Backtracks:", "value": "5", "col": 1, "row": 1},
   {"kind": "stat", "label": "Reversal Ratio:", "value": "0.0059", "col": 2, "row": 1},
   {"kind": "stat", "label": "Total Branches:", "value": "5", "col": 3, "row": 1},
   {"kind": "stat", "label": "Max Search Depth:", "value": "1", "col": 0, "row": 2},
   {"kind": "stat", "label": "Mean Attack:", "value": "0.4946", "col": 1, "row": 2},
   {"kind": "stat", "label": "Max Attack:", "value": "0.5713", "col": 2, "row": 2},
   {"kind": "footer", "label": "Generated: 2026-05-08 10:16", "side": 0, "row": 3},
   {"kind": "footer", "label": "NCF Audit Engine V3.0 — Red Team", "side": 1, "row": 3}
 ]},
 "layer": [
  {"transform": [{"filter": "datum.kind === 'stat'"}],
   "mark": {"type": "text", "align": "left", "baseline": "middle", "fontSize": 18.75, "color": "#8a8aa0"},
   "encoding": {
     "x": {"field": "col", "type": "quantitative", "scale": {"domain": [0, 4], "nice": false, "zero": false}, "axis": null},
     "y": {"field": "row", "type": "quantitative", "scale": {"domain": [0.2522, 3], "reverse": true, "nice": false, "zero": false}, "axis": null},
     "text": {"field": "label"}}},
  {"transform": [{"filter": "datum.kind === 'stat'"}],
   "mark": {"type": "text", "align": "left", "baseline": "middle", "fontSize": 18.75, "fontWeight": "bold", "color": "#1a1a2e", "dx": 241},
   "encoding": {
     "x": {"field": "col", "type": "quantitative", "scale": {"domain": [0, 4], "nice": false, "zero": false}, "axis": null},
     "y": {"field": "row", "type": "quantitative", "scale": {"domain": [0.2522, 3], "reverse": true, "nice": false, "zero": false}, "axis": null},
     "text": {"field": "value"}}},
  {"transform": [{"filter": "datum.kind === 'footer' && datum.side === 0"}],
   "mark": {"type": "text", "align": "left", "baseline": "middle", "fontSize": 18.75, "color": "#8a8a9a", "dy": -17},
   "encoding": {
     "x": {"field": "side", "type": "quantitative", "scale": {"domain": [0, 1], "range": [-71.5, 2184.5], "nice": false, "zero": false}, "axis": null},
     "y": {"field": "row", "type": "quantitative", "scale": {"domain": [0.2522, 3], "reverse": true, "nice": false, "zero": false}, "axis": null},
     "text": {"field": "label"}}},
  {"transform": [{"filter": "datum.kind === 'footer' && datum.side === 1"}],
   "mark": {"type": "text", "align": "right", "baseline": "middle", "fontSize": 18.75, "color": "#8a8a9a", "dy": -17},
   "encoding": {
     "x": {"field": "side", "type": "quantitative", "scale": {"domain": [0, 1], "range": [-71.5, 2184.5], "nice": false, "zero": false}, "axis": null},
     "y": {"field": "row", "type": "quantitative", "scale": {"domain": [0.2522, 3], "reverse": true, "nice": false, "zero": false}, "axis": null},
     "text": {"field": "label"}}}
 ],
 "resolve": {"scale": {"x": "independent"}}
}
]
}
